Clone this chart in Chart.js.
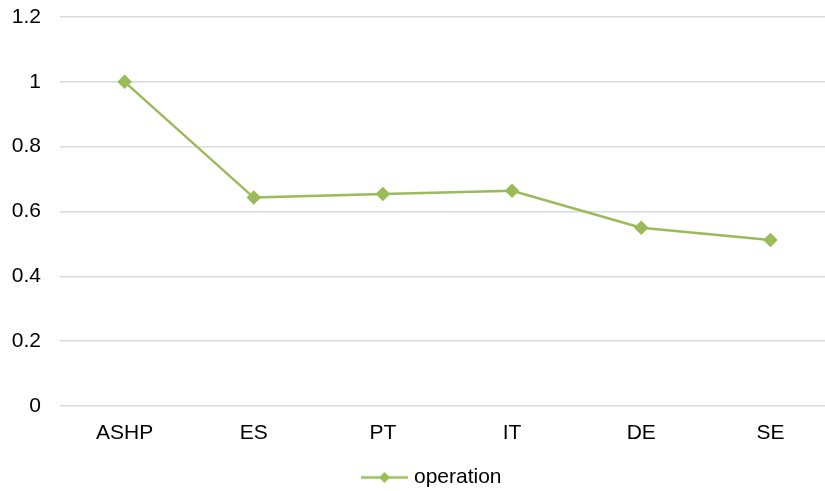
<!DOCTYPE html>
<html>
<head>
<meta charset="utf-8">
<script src="https://cdn.jsdelivr.net/npm/chart.js@4/dist/chart.umd.min.js"></script>
<style>
  html, body { margin: 0; padding: 0; background: #fff; overflow: hidden; }
  #clip { width: 825px; height: 491px; overflow: hidden; position: relative; }
  #wrap { width: 835px; height: 491px; position: absolute; left: 0; top: 0; }
</style>
</head>
<body>
<div id="clip"><div id="wrap"><canvas id="chart"></canvas></div></div>
<script>
// Categories and series
const categories = ['ASHP', 'ES', 'PT', 'IT', 'DE', 'SE'];
const operation = [1.0, 0.643, 0.654, 0.664, 0.550, 0.512];

const GREEN = '#9BBB59';
const FONT = 'Liberation Sans, Arial, sans-serif';

// Legend icon: line with a diamond in the middle, drawn in the right part
// of a wider transparent image so it sits just left of the label text
function legendIcon() {
  const c = document.createElement('canvas');
  c.width = 79; c.height = 14;
  const g = c.getContext('2d');
  g.strokeStyle = GREEN;
  g.lineWidth = 2.5;
  g.beginPath(); g.moveTo(32, 7); g.lineTo(79, 7); g.stroke();
  g.fillStyle = GREEN;
  g.beginPath(); g.moveTo(55.5, 1.5); g.lineTo(61, 7); g.lineTo(55.5, 12.5); g.lineTo(50, 7); g.closePath(); g.fill();
  return c;
}

new Chart(document.getElementById('chart'), {
  type: 'line',
  data: {
    labels: categories,
    datasets: [{
      label: 'operation',
      data: operation,
      borderColor: GREEN,
      backgroundColor: GREEN,
      borderWidth: 2.5,
      pointStyle: 'rectRot',
      pointRadius: 5.5,
      pointHoverRadius: 5.5,
      tension: 0
    }]
  },
  options: {
    responsive: true,
    maintainAspectRatio: false,
    animation: false,
    layout: { autoPadding: false, padding: { top: 0, left: 0, right: 0, bottom: -7 } },
    plugins: {
      tooltip: { enabled: false },
      legend: {
        position: 'bottom',
        labels: {
          usePointStyle: true,
          pointStyle: legendIcon(),
          pointStyleWidth: 70,
          color: '#000',
          font: { family: FONT, size: 21 },
          padding: 0
        }
      }
    },
    scales: {
      x: {
        offset: true,
        grid: { display: false, drawTicks: false },
        border: { display: false },
        ticks: {
          color: '#000',
          padding: 15,
          font: { family: FONT, size: 21 }
        },
        afterFit: (scale) => {
          scale.height = 61;
          scale.paddingLeft = 0;
          scale.paddingRight = 0;
        }
      },
      y: {
        min: 0,
        max: 1.2,
        grid: { color: '#d9d9d9', lineWidth: 1.5, drawTicks: false },
        border: { display: false },
        ticks: {
          stepSize: 0.2,
          color: '#000',
          padding: 19,
          font: { family: FONT, size: 21, lineHeight: 1 },
          callback: (v) => String(Math.round(v * 10) / 10)
        },
        afterFit: (scale) => {
          scale.width = 60;
          scale.paddingTop = 17;
          scale.paddingBottom = 0;
        }
      }
    }
  }
});
</script>
</body>
</html>
